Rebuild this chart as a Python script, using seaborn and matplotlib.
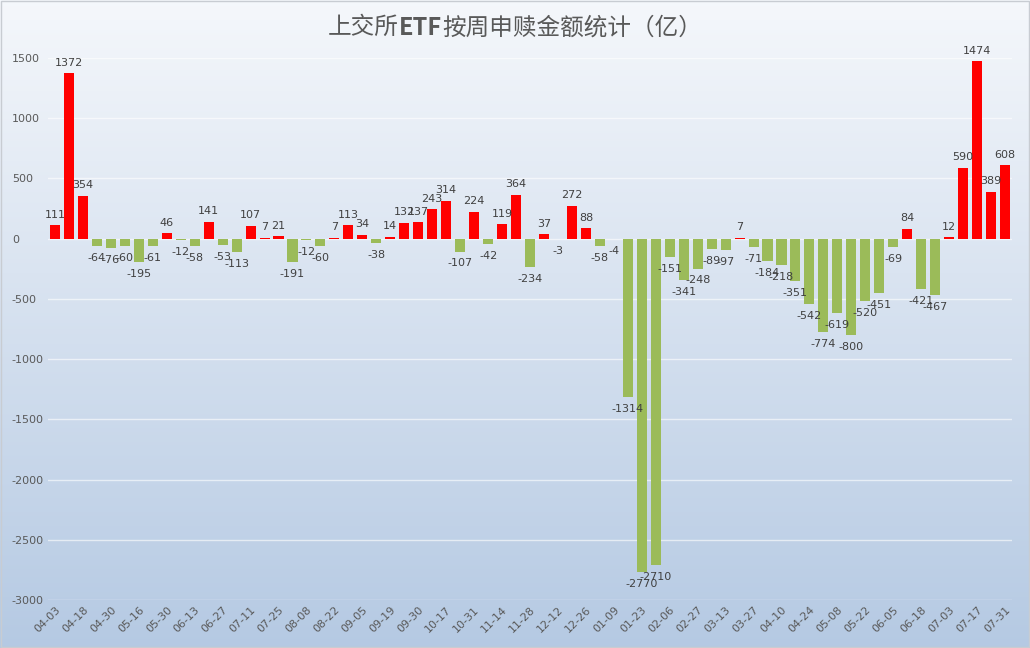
import numpy as np
import pandas as pd
import seaborn as sns
import matplotlib.pyplot as plt

plt.rcParams["axes.unicode_minus"] = False

# weekly dates (only every other one is shown on the axis)
dates = ["2022-04-03", "2022-04-10", "2022-04-18", "2022-04-24", "2022-04-30", "2022-05-09",
         "2022-05-16", "2022-05-23", "2022-05-30", "2022-06-06", "2022-06-13", "2022-06-20",
         "2022-06-27", "2022-07-04", "2022-07-11", "2022-07-18", "2022-07-25", "2022-08-01",
         "2022-08-08", "2022-08-15", "2022-08-22", "2022-08-29", "2022-09-05", "2022-09-12",
         "2022-09-19", "2022-09-26", "2022-09-30", "2022-10-10", "2022-10-17", "2022-10-24",
         "2022-10-31", "2022-11-07", "2022-11-14", "2022-11-21", "2022-11-28", "2022-12-05",
         "2022-12-12", "2022-12-19", "2022-12-26", "2023-01-02", "2023-01-09", "2023-01-16",
         "2023-01-23", "2023-01-30", "2023-02-06", "2023-02-20", "2023-02-27", "2023-03-06",
         "2023-03-13", "2023-03-20", "2023-03-27", "2023-04-03", "2023-04-10", "2023-04-17",
         "2023-04-24", "2023-05-01", "2023-05-08", "2023-05-15", "2023-05-22", "2023-05-29",
         "2023-06-05", "2023-06-12", "2023-06-18", "2023-06-26", "2023-07-03", "2023-07-10",
         "2023-07-17", "2023-07-24", "2023-07-31"]

flows = [111, 1372, 354, -64, -76, -60, -195, -61, 46, -12, -58, 141, -53, -113, 107, 7,
         21, -191, -12, -60, 7, 113, 34, -38, 14, 132, 137, 243, 314, -107, 224, -42,
         119, 364, -234, 37, -3, 272, 88, -58, -4, -1314, -2770, -2710, -151, -341, -248,
         -89, -97, 7, -71, -184, -218, -351, -542, -774, -619, -800, -520, -451, -69, 84,
         -421, -467, 12, 590, 1474, 389, 608]

df = pd.DataFrame({"date": dates, "flow": flows})
df["sign"] = np.where(df["flow"] >= 0, "in", "out")

fig = plt.figure(figsize=(10.3, 6.48), dpi=100)

# gradient background for the whole chart
bg = fig.add_axes([0, 0, 1, 1], zorder=-10)
top = np.array([0.96, 0.97, 0.985])
bot = np.array([0.71, 0.79, 0.89])
t = np.linspace(0, 1, 256)[:, None]
grad = top * (1 - t) + bot * t
bg.imshow(grad[:, None, :].repeat(2, axis=1), aspect="auto", extent=[0, 1, 0, 1])
bg.set_axis_off()
bg.add_patch(plt.Rectangle((0.001, 0.001), 0.998, 0.997, fill=False, ec="#c8ccd2", lw=1))

ax = fig.add_axes([48 / 1030, 48 / 648, 964 / 1030, 542 / 648])
ax.patch.set_alpha(0)
sns.barplot(data=df, x="date", y="flow", hue="sign", palette={"in": "#ff0000", "out": "#9bbb59"},
            dodge=False, legend=False, width=0.72, saturation=1, ax=ax, zorder=3)

ax.set_ylim(-3000, 1500)
ax.set_xlim(-0.5, len(dates) - 0.5)
ax.set_yticks(range(-3000, 1501, 500))
ax.grid(axis="y", color="#ffffff", alpha=0.6, lw=1, zorder=0)
ax.set_axisbelow(True)
for s in ax.spines.values():
    s.set_visible(False)
ax.set_xlabel("")
ax.set_ylabel("")
ax.tick_params(length=0, colors="#595959", labelsize=8)
for lab in ax.get_yticklabels():
    lab.set_horizontalalignment("left")
ax.tick_params(axis="y", pad=26)

ax.set_xticks(range(0, len(dates), 2))
ax.set_xticklabels([d[5:] for d in dates[::2]], rotation=45, ha="right", rotation_mode="anchor")

for i, v in enumerate(flows):
    off = 4 if v >= 0 else -5
    ax.annotate(str(v), (i, v), xytext=(0, off), textcoords="offset points",
                ha="center", va="bottom" if v >= 0 else "top", fontsize=8, color="#404040", zorder=5)

# title with bold ETF
cjk = ["Noto Sans CJK SC", "DejaVu Sans"]
parts = [("上交所", "normal"), ("ETF", "bold"), ("按周申赎金额统计（亿）", "normal")]
renderer = fig.canvas.get_renderer()
texts = []
for s, w in parts:
    tx = fig.text(0, 0.957, s, fontsize=17, fontweight=w, family=cjk, color="#595959", va="center")
    texts.append(tx)
widths = [tx.get_window_extent(renderer).width for tx in texts]
x0 = (1030 - sum(widths)) / 2
for tx, w in zip(texts, widths):
    tx.set_x(x0 / 1030)
    x0 += w

fig.savefig("out.png", dpi=100)
